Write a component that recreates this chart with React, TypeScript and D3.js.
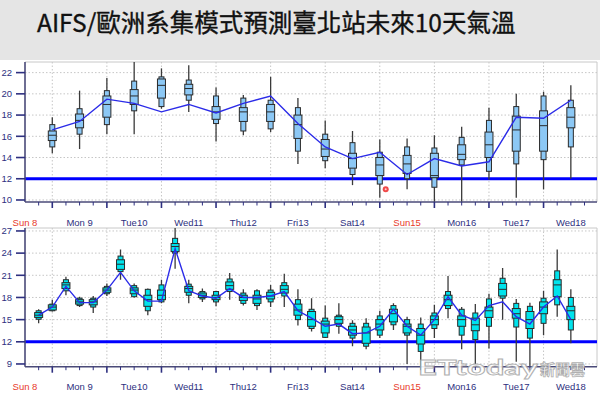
import React from 'react';
import * as d3 from 'd3';

type Sel = d3.Selection<any, unknown, null, undefined>;

const titleText = 'AIFS/歐洲系集模式預測臺北站未來10天氣溫';

const dayLabels = ['Sun 8', 'Mon 9', 'Tue10', 'Wed11', 'Thu12', 'Fri13', 'Sat14', 'Sun15', 'Mon16', 'Tue17', 'Wed18'];
const redDays = ['Sun 8', 'Sun15'];

// top panel: 12-hourly boxes
const topHours = [12, 24, 36, 48, 60, 72, 84, 96, 108, 120, 132, 144, 156, 168, 180, 192, 204, 216, 228, 240];
const topWhiskLo = [14.4, 14.8, 16.2, 16.2, 18.6, 18.3, 15.5, 16.1, 16.4, 13.4, 13.0, 11.4, 10.2, 11.0, 9.5, 9.5, 11.9, 10.2, 11.0, 12.0];
const topOuterLo = [15.0, 16.2, 17.1, 18.4, 18.8, 19.4, 17.2, 16.5, 16.7, 14.6, 13.7, 12.4, 11.5, 12.0, 11.2, 13.3, 12.7, 13.4, 13.8, 15.0];
const topInnerLo = [15.6, 16.8, 17.8, 19.0, 19.6, 19.9, 17.6, 17.4, 17.4, 15.8, 14.1, 13.0, 12.3, 12.5, 12.1, 13.8, 14.0, 14.6, 14.6, 16.8];
const topMedian = [16.1, 17.5, 19.0, 19.8, 20.8, 20.5, 18.3, 18.3, 18.3, 17.1, 14.8, 13.9, 13.3, 13.4, 12.3, 14.3, 15.2, 16.6, 17.0, 17.8];
const topInnerHi = [16.5, 18.1, 19.8, 20.4, 21.4, 20.9, 18.8, 18.7, 19.0, 18.0, 15.7, 14.4, 14.0, 14.2, 14.4, 15.2, 16.4, 17.9, 18.4, 18.7];
const topOuterHi = [17.1, 18.6, 20.3, 21.2, 21.6, 21.3, 19.8, 19.6, 19.4, 18.7, 16.2, 15.4, 14.5, 15.0, 14.9, 15.9, 17.5, 18.8, 19.8, 19.4];
const topWhiskHi = [17.8, 20.3, 21.5, 23.1, 22.4, 22.7, 20.6, 19.9, 21.6, 19.6, 17.5, 16.5, 15.7, 15.8, 16.1, 16.9, 18.7, 20.0, 20.2, 20.8];
const topMean = [16.6, 17.4, 19.5, 19.1, 18.3, 19.0, 18.2, 19.1, 19.8, 17.2, 15.0, 13.9, 14.5, 12.4, 13.9, 13.2, 13.6, 17.8, 17.7, 19.4];

// bottom panel: 6-hourly boxes
const botHours = [6, 12, 18, 24, 30, 36, 42, 48, 54, 60, 66, 72, 78, 84, 90, 96, 102, 108, 114, 120,
  126, 132, 138, 144, 150, 156, 162, 168, 174, 180, 186, 192, 198, 204, 210, 216, 222, 228, 234, 240];
const botWhiskLo = [14.5, 16.1, 18.3, 16.7, 15.9, 18.2, 20.4, 18.0, 15.6, 17.2, 21.9, 17.2, 17.4, 16.8, 17.7, 16.9, 16.3, 16.7, 16.7, 14.2,
  13.4, 12.5, 13.1, 11.4, 11.0, 12.5, 13.6, 9.0, 8.6, 12.5, 15.2, 11.0, 9.0, 11.1, 15.0, 9.3, 8.6, 12.9, 15.4, 11.8];
const botOuterLo = [15.05, 16.2, 18.9, 16.9, 16.7, 18.5, 21.5, 18.1, 16.2, 17.4, 24.0, 18.3, 17.8, 17.4, 18.8, 17.2, 16.9, 17.4, 18.2, 15.0,
  13.8, 12.6, 14.1, 12.5, 11.4, 12.9, 14.3, 12.9, 10.7, 13.8, 16.5, 12.9, 12.3, 14.1, 17.9, 14.0, 12.5, 14.5, 17.0, 13.6];
const botInnerLo = [15.3, 16.3, 19.2, 17.1, 17.0, 18.7, 21.8, 18.5, 16.8, 17.7, 24.2, 18.7, 18.0, 17.7, 19.1, 17.6, 17.2, 17.8, 18.6, 15.6,
  14.1, 13.2, 14.5, 12.9, 11.8, 13.6, 14.7, 13.2, 11.7, 14.3, 16.9, 14.1, 13.5, 15.3, 18.2, 15.2, 13.8, 15.8, 18.1, 15.0];
const botMedian = [15.6, 16.7, 19.7, 17.4, 17.4, 19.0, 22.5, 19.0, 17.7, 18.3, 24.9, 19.2, 18.3, 18.0, 19.6, 18.0, 17.8, 18.2, 19.1, 16.3,
  15.0, 14.4, 15.0, 13.6, 13.2, 14.4, 15.8, 14.1, 12.9, 15.0, 17.7, 15.0, 14.3, 16.2, 19.1, 15.8, 15.0, 16.7, 19.7, 16.2];
const botInnerHi = [15.95, 17.0, 20.0, 17.7, 17.7, 19.3, 23.1, 19.3, 18.3, 19.0, 25.3, 19.5, 18.6, 18.3, 20.1, 18.3, 18.3, 18.7, 19.6, 17.1,
  16.1, 14.8, 15.4, 14.1, 14.0, 15.0, 16.4, 14.4, 13.8, 15.5, 18.3, 15.5, 15.2, 16.7, 19.9, 16.5, 16.1, 17.4, 20.4, 16.8];
const botOuterHi = [16.2, 17.1, 20.4, 17.9, 17.9, 19.5, 23.6, 19.6, 19.1, 19.7, 26.0, 19.8, 18.8, 18.8, 20.5, 18.6, 18.9, 19.0, 20.0, 17.7,
  16.4, 15.2, 15.6, 14.5, 14.5, 15.5, 16.9, 15.0, 14.4, 15.9, 18.8, 16.4, 15.9, 17.8, 20.6, 17.2, 16.8, 17.9, 21.6, 18.0];
const botWhiskHi = [16.4, 17.7, 20.8, 18.1, 18.2, 19.9, 24.5, 19.9, 19.2, 20.4, 27.6, 20.4, 19.2, 18.9, 21.3, 19.1, 19.1, 19.7, 21.2, 19.1,
  17.9, 16.9, 17.2, 14.9, 15.2, 16.2, 17.2, 15.4, 15.3, 17.0, 20.9, 16.7, 17.1, 18.5, 22.0, 17.8, 17.3, 18.9, 24.5, 19.1];
const botMean = [15.6, 16.7, 19.5, 17.3, 17.3, 19.0, 21.4, 18.9, 17.5, 17.5, 24.6, 18.9, 18.2, 17.9, 19.2, 18.0, 18.0, 18.2, 18.8, 16.2,
  15.2, 14.1, 14.4, 13.1, 13.2, 14.1, 16.4, 14.1, 12.9, 15.0, 18.1, 15.6, 14.9, 16.9, 17.4, 15.4, 14.4, 16.7, 18.2, 15.0];

const topTicks = [10, 12, 14, 16, 18, 20, 22];
const botTicks = [9, 12, 15, 18, 21, 24, 27];
const majorHours = [12, 36, 60, 84, 108, 132, 156, 180, 204, 228];
const minorHours = [6, 18, 24, 30, 42, 48, 54, 66, 72, 78, 90, 96, 102, 114, 120, 126, 138, 144, 150, 162, 168, 174,
  186, 192, 198, 210, 216, 222, 234, 240, 246];
const refTemp = 12;
const markerPoint = [158.6, 11.0];

const font = 'Liberation Sans, Arial, sans-serif';
const navy = '#2e3080';

const App: React.FC = () => {
  const ref = React.useRef<SVGSVGElement>(null);

  React.useEffect(() => {
    const svg = d3.select(ref.current) as Sel;
    svg.selectAll('*').remove();

    const left = 25;
    const right = 597;
    const x = d3.scaleLinear().domain([0, 251.5]).range([left, right]);

    svg.append('rect').attr('width', 600).attr('height', 393).attr('fill', '#fff');
    svg.append('rect').attr('width', 600).attr('height', 60).attr('fill', '#e5e5e5');
    svg.append('text')
      .attr('x', 37).attr('y', 32)
      .attr('font-family', '"Noto Sans CJK TC", sans-serif')
      .attr('font-size', 24.5)
      .attr('fill', '#111')
      .attr('stroke', '#111').attr('stroke-width', 0.35)
      .text(titleText);

    const panels = [
      {
        id: 'top', y0: 62, y1: 202, domain: [9.81, 23.0], ticks: topTicks, labelY: 225.5,
        hours: topHours, wLo: topWhiskLo, oLo: topOuterLo, iLo: topInnerLo, med: topMedian,
        iHi: topInnerHi, oHi: topOuterHi, wHi: topWhiskHi, mean: topMean, fill: '#8cc8f5',
      },
      {
        id: 'bot', y0: 228, y1: 366.7, domain: [8.63, 27.4], ticks: botTicks, labelY: 390,
        hours: botHours, wLo: botWhiskLo, oLo: botOuterLo, iLo: botInnerLo, med: botMedian,
        iHi: botInnerHi, oHi: botOuterHi, wHi: botWhiskHi, mean: botMean, fill: '#00e3ec',
      },
    ];

    panels.forEach(p => {
      const y = d3.scaleLinear().domain(p.domain).range([p.y1, p.y0]);
      const g = svg.append('g');

      g.append('clipPath').attr('id', `clip-${p.id}`)
        .append('rect')
        .attr('x', left).attr('y', p.y0)
        .attr('width', right - left).attr('height', p.y1 - p.y0);

      // grid
      g.selectAll('.hgrid')
        .data(p.ticks)
        .join('line')
          .attr('x1', left).attr('x2', right)
          .attr('y1', d => y(d)).attr('y2', d => y(d))
          .attr('stroke', '#c6c6c6')
          .attr('stroke-dasharray', '1.5,2');
      g.selectAll('.vgrid')
        .data(majorHours)
        .join('line')
          .attr('x1', d => x(d)).attr('x2', d => x(d))
          .attr('y1', p.y0).attr('y2', p.y1)
          .attr('stroke', '#c6c6c6')
          .attr('stroke-dasharray', '1.5,2');

      // frame
      g.append('path')
        .attr('d', `M${left},${p.y0}H${right}V${p.y1}`)
        .attr('fill', 'none')
        .attr('stroke', '#c8c8c8');

      g.append('line')
        .attr('x1', left).attr('x2', right)
        .attr('y1', y(refTemp)).attr('y2', y(refTemp))
        .attr('stroke', '#0000ff')
        .attr('stroke-width', 3);

      const boxes = g.append('g').attr('clip-path', `url(#clip-${p.id})`);
      const idx = p.hours.map((_, i) => i);

      boxes.selectAll('.whisk')
        .data(idx)
        .join('line')
          .attr('x1', i => x(p.hours[i])).attr('x2', i => x(p.hours[i]))
          .attr('y1', i => y(p.wLo[i])).attr('y2', i => y(p.wHi[i]))
          .attr('stroke', '#3a3a3a')
          .attr('stroke-width', 1.3);
      boxes.selectAll('.outer')
        .data(idx)
        .join('rect')
          .attr('x', i => x(p.hours[i]) - 2.5)
          .attr('width', 5)
          .attr('y', i => y(p.oHi[i]))
          .attr('height', i => y(p.oLo[i]) - y(p.oHi[i]))
          .attr('fill', p.fill)
          .attr('stroke', '#2a2a2a')
          .attr('stroke-width', 1);
      boxes.selectAll('.inner')
        .data(idx)
        .join('rect')
          .attr('x', i => x(p.hours[i]) - 4)
          .attr('width', 8)
          .attr('y', i => y(p.iHi[i]))
          .attr('height', i => y(p.iLo[i]) - y(p.iHi[i]))
          .attr('fill', p.fill)
          .attr('stroke', '#2a2a2a')
          .attr('stroke-width', 1);
      boxes.selectAll('.median')
        .data(idx)
        .join('line')
          .attr('x1', i => x(p.hours[i]) - 4).attr('x2', i => x(p.hours[i]) + 4)
          .attr('y1', i => y(p.med[i])).attr('y2', i => y(p.med[i]))
          .attr('stroke', '#2a2a2a')
          .attr('stroke-width', 1);

      const line = d3.line<number>()
        .x(i => x(p.hours[i]))
        .y(i => y(p.mean[i]));
      boxes.append('path')
        .attr('d', line(idx))
        .attr('fill', 'none')
        .attr('stroke', '#2b2be8')
        .attr('stroke-width', 1.4);

      // axes
      g.append('line')
        .attr('x1', left).attr('x2', left)
        .attr('y1', p.y0).attr('y2', p.y1)
        .attr('stroke', '#4a4a78').attr('stroke-width', 1.6);
      g.append('line')
        .attr('x1', left).attr('x2', right)
        .attr('y1', p.y1).attr('y2', p.y1)
        .attr('stroke', '#4a4a78').attr('stroke-width', 1.6);

      g.selectAll('.ytick')
        .data(p.ticks)
        .join('line')
          .attr('x1', left - 9).attr('x2', left)
          .attr('y1', d => y(d)).attr('y2', d => y(d))
          .attr('stroke', navy).attr('stroke-width', 1.6);
      g.selectAll('.ylabel')
        .data(p.ticks)
        .join('text')
          .attr('x', 12).attr('y', d => y(d))
          .attr('dy', '0.35em')
          .attr('text-anchor', 'end')
          .attr('font-family', font).attr('font-size', 9.5)
          .attr('fill', navy)
          .text(d => d);

      g.selectAll('.major')
        .data(majorHours)
        .join('line')
          .attr('x1', d => x(d)).attr('x2', d => x(d))
          .attr('y1', p.y1).attr('y2', p.y1 + 6)
          .attr('stroke', navy).attr('stroke-width', 1.6);
      g.selectAll('.minor')
        .data(minorHours)
        .join('line')
          .attr('x1', d => x(d)).attr('x2', d => x(d))
          .attr('y1', p.y1).attr('y2', p.y1 + 3.5)
          .attr('stroke', navy).attr('stroke-width', 1);

      g.selectAll('.xlabel')
        .data(dayLabels)
        .join('text')
          .attr('x', (_, i) => x(i * 24))
          .attr('y', p.labelY)
          .attr('text-anchor', 'middle')
          .attr('font-family', font).attr('font-size', 9.5)
          .attr('fill', d => (redDays.includes(d) ? '#e8392a' : navy))
          .text(d => d);

      if (p.id === 'top') {
        g.append('circle')
          .attr('cx', x(markerPoint[0])).attr('cy', y(markerPoint[1]))
          .attr('r', 3).attr('fill', '#f04a4a');
        g.append('circle')
          .attr('cx', x(markerPoint[0])).attr('cy', y(markerPoint[1]))
          .attr('r', 1).attr('fill', '#ffd0d0');
      }
    });

    // watermark
    const wm = svg.append('g').attr('opacity', 0.9);
    wm.append('text')
      .attr('x', 418).attr('y', 375)
      .attr('font-family', 'Lato, sans-serif').attr('font-size', 21)
      .attr('font-weight', 'bold')
      .attr('textLength', 120).attr('lengthAdjust', 'spacingAndGlyphs')
      .attr('fill', '#fff').attr('stroke', '#a8a8a8').attr('stroke-width', 0.8)
      .text('ETtoday');
    wm.append('text')
      .attr('x', 540).attr('y', 375)
      .attr('font-family', '"Noto Sans CJK TC", sans-serif').attr('font-size', 15)
      .attr('font-weight', 'bold')
      .attr('fill', '#fff').attr('stroke', '#a8a8a8').attr('stroke-width', 0.8)
      .text('新聞雲');
  }, []);

  return (
    <svg ref={ref} width={600} height={393} style={{ position: 'absolute', left: 0, top: 0 }} />
  );
};

export default App;
